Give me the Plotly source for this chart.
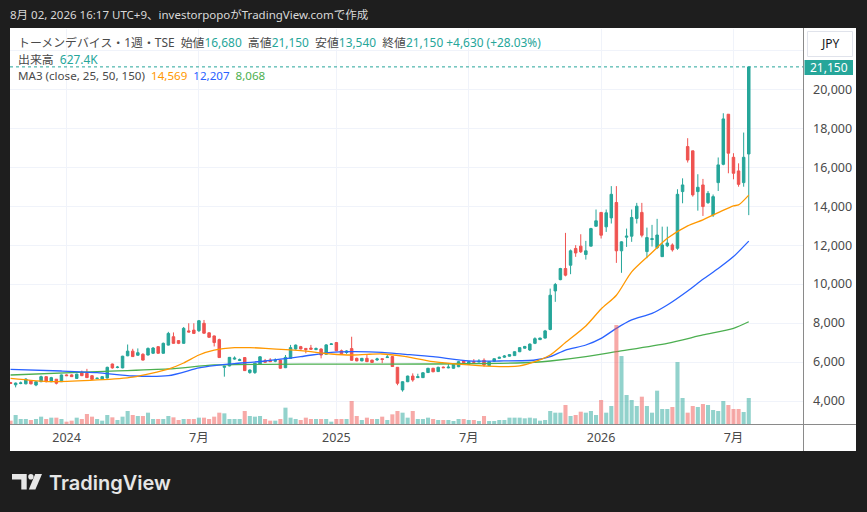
import pandas as pd
import plotly.graph_objects as go

# ---------------- data (weekly bars, Mondays) ----------------
first_week = "2023-10-16"
n_weeks = 146
dates = pd.date_range(first_week, periods=n_weeks, freq="7D")

opens = [4950, 4830, 4900, 4880, 5050, 4820, 4990, 5250, 4990, 5120,
         4990, 5340, 5340, 5160, 5470, 5420, 5300, 5150, 5120, 5180,
         5900, 5720, 5700, 6320, 6560, 6350, 6400, 6360, 6450, 6790,
         6450, 6870, 7300, 7100, 6960, 7600, 7640, 7610, 7990, 7500,
         7340, 7150, 5730, 5800, 6150, 6080, 6230, 5460, 5460, 5900,
         6070, 6100, 6040, 6100, 5710, 6190, 6670, 6790, 6700, 6720,
         6640, 6670, 6400, 6900, 7000, 6580, 6490, 6690, 6190, 6060,
         6190, 6100, 6110, 6170, 6230, 6280, 5730, 4570, 4990, 5280,
         5200, 5200, 5460, 5680, 5510, 5740, 5700, 5680, 5760, 6060,
         5880, 6020, 6000, 6090, 5820, 6040, 6190, 6250, 6300, 6330,
         6530, 6710, 6620, 6960, 7150, 7230, 7670, 9650, 10230, 10800,
         10970, 11830, 11950, 11520, 11950, 12970, 13680, 12940, 13400, 14190,
         11710, 12410, 12460, 13370, 13680, 11670, 12290, 11870, 11410, 11970,
         12010, 11840, 14750, 17060, 16840, 14750, 15090, 14180, 13550, 15210,
         16150, 18720, 16510, 15810, 15210, 16680]
highs = [4980, 4950, 5000, 5160, 5080, 5010, 5300, 5260, 5240, 5130,
         5360, 5370, 5370, 5400, 5560, 5650, 5320, 5200, 5270, 5760,
         5920, 5800, 6320, 6900, 6680, 6700, 6450, 6750, 6770, 6820,
         7000, 7550, 7520, 7120, 7800, 7990, 7990, 8160, 8160, 7520,
         7360, 7200, 5800, 6260, 6290, 6180, 6250, 5620, 5960, 6300,
         6160, 6200, 6190, 6110, 6360, 6880, 6900, 6830, 6720, 6880,
         6750, 6700, 6920, 6970, 7030, 6640, 6610, 7300, 6230, 6210,
         6360, 6120, 6220, 6180, 6360, 6300, 5740, 5010, 5300, 5420,
         5400, 5480, 5700, 5700, 5760, 5770, 5890, 5900, 6060, 6100,
         6050, 6150, 6150, 6190, 6040, 6190, 6280, 6360, 6400, 6550,
         6760, 6830, 6960, 7270, 7250, 7650, 9770, 10060, 10835, 12630,
         11776, 12000, 12560, 12220, 12890, 13830, 13700, 13830, 15030, 15030,
         12200, 12850, 13830, 14170, 14170, 12900, 13040, 13350, 12950, 12950,
         12090, 14870, 15430, 17490, 16850, 15640, 15400, 14780, 14600, 16500,
         18770, 18730, 16720, 16200, 17780, 21150]
lows = [4870, 4700, 4860, 4860, 4860, 4760, 4970, 4960, 4970, 4850,
        4980, 5290, 5240, 5140, 5280, 5180, 5100, 5140, 5110, 5160,
        5660, 5680, 5680, 6300, 6260, 6330, 6080, 6340, 6420, 6430,
        6430, 6850, 6940, 6920, 6940, 7530, 7450, 7540, 7460, 7250,
        6800, 6220, 5250, 5780, 6120, 6050, 5540, 5400, 5390, 5880,
        5970, 6000, 5990, 5660, 5690, 6170, 6640, 6650, 6450, 6640,
        6610, 6190, 6380, 6890, 6560, 6380, 6420, 6070, 6040, 6040,
        6000, 5960, 6050, 5940, 6220, 5750, 4810, 4480, 4970, 4990,
        5180, 5180, 5440, 5480, 5490, 5690, 5680, 5660, 5740, 5860,
        5860, 5970, 5990, 5760, 5800, 6020, 6170, 6210, 6280, 6310,
        6510, 6690, 6570, 6920, 7130, 7210, 7630, 9090, 10200, 10400,
        10510, 11400, 11600, 11260, 11940, 12960, 12340, 12680, 13110, 11090,
        10580, 11910, 12170, 13110, 12400, 11330, 11930, 11800, 11400, 11900,
        11670, 11760, 14150, 16240, 14490, 13770, 13500, 14120, 13450, 14780,
        16100, 15690, 15380, 15000, 15000, 13540]
closes = [4900, 4920, 4930, 5130, 4880, 4990, 5250, 4990, 5200, 4910,
          5340, 5300, 5250, 5380, 5300, 5200, 5110, 5170, 5250, 5730,
          5700, 5740, 6300, 6560, 6280, 6480, 6100, 6700, 6720, 6450,
          6960, 7470, 6960, 6960, 7730, 7540, 7470, 8120, 7480, 7270,
          7000, 6230, 5790, 6240, 6200, 6120, 5560, 5590, 5940, 6270,
          5990, 6020, 6090, 5680, 6240, 6740, 6870, 6670, 6640, 6660,
          6690, 6360, 6880, 6930, 6580, 6420, 6570, 6090, 6060, 6190,
          6020, 5980, 6160, 6130, 6260, 5770, 4910, 4990, 5280, 5080,
          5250, 5450, 5680, 5500, 5730, 5710, 5740, 5880, 6020, 5880,
          6010, 5990, 6040, 5850, 6020, 6170, 6240, 6310, 6380, 6530,
          6740, 6800, 6920, 7200, 7230, 7600, 9430, 9980, 10800, 10460,
          11710, 11600, 11660, 11710, 12850, 13250, 12510, 13660, 14610, 11710,
          12170, 12460, 13420, 14000, 12510, 12390, 12330, 12520, 12010, 12110,
          11760, 14610, 15090, 16370, 14580, 14970, 13980, 14660, 14490, 16120,
          18480, 16720, 15690, 15120, 16510, 21150]
volumes_k = [80, 217, 121, 121, 96, 121, 177, 121, 153, 153,
             121, 56, 80, 153, 121, 241, 177, 121, 80, 217,
             161, 96, 177, 314, 217, 193, 193, 273, 121, 121,
             121, 193, 161, 96, 121, 121, 121, 153, 153, 121,
             177, 273, 257, 121, 121, 121, 314, 193, 177, 193,
             121, 80, 80, 121, 394, 153, 121, 96, 153, 121,
             121, 121, 121, 56, 121, 121, 121, 555, 193, 96,
             153, 121, 121, 177, 96, 233, 314, 273, 153, 314,
             121, 121, 153, 121, 96, 96, 96, 72, 121, 121,
             96, 96, 72, 193, 72, 72, 96, 96, 153, 153,
             153, 137, 153, 137, 80, 96, 314, 273, 273, 458,
             193, 217, 297, 273, 314, 217, 579, 273, 434, 2388,
             1640, 700, 579, 434, 659, 434, 273, 804, 362, 362,
             410, 1495, 627, 273, 434, 410, 482, 458, 338, 314,
             555, 458, 362, 362, 289, 627.4]

ma25_idx = [0, 8, 17, 24, 31, 34, 37, 40, 44, 47, 50, 57, 63, 67, 70, 73, 77, 83,
            90, 96, 100, 103, 106, 109, 113, 116, 119, 122, 126, 129, 133, 136,
            139, 142, 143, 145]
ma25_val = [5165, 4995, 5080, 5230, 5640, 5950, 6362, 6610, 6737, 6740, 6705, 6585,
            6413, 6362, 6396, 6413, 6300, 6018, 5850, 5765, 5800, 6018, 6362, 7000,
            7850, 8720, 9430, 10630, 11620, 12350, 12990, 13300, 13670, 14020,
            14064, 14569]
ma50_idx = [0, 10, 17, 24, 31, 37, 40, 44, 50, 57, 63, 67, 73, 77, 83, 90, 96, 103,
            106, 109, 113, 116, 119, 122, 126, 129, 133, 136, 139, 142, 145]
ma50_val = [5627, 5540, 5453, 5284, 5300, 5700, 5820, 5920, 6055, 6277, 6500, 6534,
            6500, 6410, 6275, 6053, 6053, 6105, 6277, 6618, 6875, 7218, 7730, 8160,
            8500, 8930, 9650, 10250, 10800, 11412, 12207]
ma150_idx = [0, 17, 31, 40, 50, 63, 83, 96, 103, 106, 113, 119, 129, 136, 142, 145]
ma150_val = [5335, 5505, 5645, 5850, 5885, 5890, 5900, 5936, 5990, 6053, 6277, 6534,
             6962, 7390, 7732, 8068]

tick_dates = ["2024-01-01", "2024-07-01", "2025-01-06", "2025-07-07", "2026-01-05", "2026-07-06"]
tick_text = ["2024", "7月", "2025", "7月", "2026", "7月"]
price_ticks = [4000, 6000, 8000, 10000, 12000, 14000, 16000, 18000, 20000, 22000]

last_close = closes[-1]

# ---------------- styling ----------------
UP = "#26a69a"
DOWN = "#ef5350"
FRAME = "#1e1e1e"
TXT = "#4a4a4a"
GRID = "#f0f3fa"
FONT = "Noto Sans, Noto Sans CJK JP, sans-serif"

W, H = 867, 512
L, R, T, B = 10, 803, 29, 424  # plot area in pixels


def px(x):
    return (x - L) / (R - L)


def py(y):
    return (B - y) / (B - T)


fig = go.Figure()

vol_colors = ["rgba(38,166,154,0.5)" if c >= o else "rgba(239,83,80,0.5)"
              for o, c in zip(opens, closes)]
fig.add_trace(go.Bar(x=dates, y=[v * 1000 for v in volumes_k], marker_color=vol_colors,
                     marker_line_width=0, yaxis="y2", hoverinfo="skip"))

fig.add_trace(go.Candlestick(
    x=dates, open=opens, high=highs, low=lows, close=closes,
    increasing=dict(line=dict(color=UP, width=1), fillcolor=UP),
    decreasing=dict(line=dict(color=DOWN, width=1), fillcolor=DOWN),
    whiskerwidth=0))

for idx, val, col in [(ma150_idx, ma150_val, "#4caf50"),
                      (ma50_idx, ma50_val, "#2962ff"),
                      (ma25_idx, ma25_val, "#ff9800")]:
    fig.add_trace(go.Scatter(x=[dates[i] for i in idx], y=val, mode="lines",
                             line=dict(color=col, width=1.3, shape="spline", smoothing=0.7),
                             hoverinfo="skip"))

shapes = [
    # white panel
    dict(type="rect", xref="paper", yref="paper", x0=px(10), x1=px(856), y0=py(451), y1=py(28),
         fillcolor="white", line_width=0, layer="below"),
    # last price dotted line
    dict(type="line", xref="paper", yref="y", x0=0, x1=1, y0=last_close, y1=last_close,
         line=dict(color=UP, width=1, dash="dot")),
    # separators
    dict(type="line", xref="paper", yref="paper", x0=px(803.5), x1=px(803.5), y0=py(451), y1=py(28),
         line=dict(color="#8a8a8a", width=1)),
    dict(type="line", xref="paper", yref="paper", x0=px(10), x1=px(856), y0=py(424.5), y1=py(424.5),
         line=dict(color="#8a8a8a", width=1)),
    # JPY button
    dict(type="rect", xref="paper", yref="paper", x0=px(807.5), x1=px(852.5), y0=py(56.5), y1=py(31.5),
         fillcolor="white", line=dict(color="#e0e3eb", width=1)),
    # last price label
    dict(type="rect", xref="paper", yref="paper", x0=px(804.5), x1=px(853), y0=py(75), y1=py(60),
         fillcolor=UP, line_width=0),
    # TradingView logo
    dict(type="path", xref="paper", yref="paper", fillcolor="#e6e6e6", line_width=0,
         path="M {} {} L {} {} L {} {} L {} {} L {} {} L {} {} Z".format(
             px(12), py(474), px(26.7), py(474), px(26.7), py(489.5), px(21.3), py(489.5),
             px(21.3), py(479.6), px(12), py(479.6))),
    dict(type="circle", xref="paper", yref="paper", fillcolor="#e6e6e6", line_width=0,
         x0=px(28.2), x1=px(33.6), y0=py(479.6), y1=py(474)),
    dict(type="path", xref="paper", yref="paper", fillcolor="#e6e6e6", line_width=0,
         path="M {} {} L {} {} L {} {} L {} {} Z".format(
             px(35.2), py(474), px(42), py(474), px(35.4), py(489.5), px(28.8), py(489.5))),
]


def ann(x, y, text, size=12, color=TXT, xanchor="left", family=FONT, weight=None):
    f = dict(size=size, color=color, family=family)
    if weight:
        f["weight"] = weight
    return dict(xref="paper", yref="paper", x=px(x), y=py(y), text=text, showarrow=False,
                xanchor=xanchor, yanchor="middle", font=f)


def c(t, col):
    return f"<span style='color:{col}'>{t}</span>"


legend1 = ("トーメンデバイス・1週・TSE  始値" + c("16,680", UP) + "  高値" + c("21,150", UP)
           + "  安値" + c("13,540", UP) + "  終値" + c("21,150", UP) + " " + c("+4,630 (+28.03%)", UP))
legend2 = "出来高  " + c("627.4K", UP)
legend3 = ("MA3 (close, 25, 50, 150)  " + c("14,569", "#ff9800") + "  " + c("12,207", "#2962ff")
           + "  " + c("8,068", "#4caf50"))

annotations = [
    ann(8, 14.5, "8月 02, 2026 16:17 UTC+9、investorpopoがTradingView.comで作成", size=11.5, color="#d9d9d9"),
    ann(16, 42.5, legend1, size=11.9),
    ann(16, 59, legend2, size=11.9),
    ann(16, 75.5, legend3, size=11.6),
    ann(830, 44, "JPY", size=12, color="#131722", xanchor="center"),
    ann(829, 67.5, f"{last_close:,}", size=12, color="white", xanchor="center"),
    ann(47, 483, "TradingView", size=20, color="#e6e6e6", family="Inter, Roboto, sans-serif", weight=600),
]

fig.update_layout(
    width=W, height=H,
    margin=dict(l=L, r=W - R, t=T, b=H - B, pad=0),
    paper_bgcolor=FRAME, plot_bgcolor="white",
    showlegend=False,
    bargap=0.2,
    xaxis=dict(type="date", range=["2023-10-15 06:00", "2026-10-09 14:00"],
               rangeslider=dict(visible=False), tickvals=tick_dates, ticktext=tick_text,
               showgrid=True, gridcolor=GRID, gridwidth=1, showline=False, zeroline=False,
               ticks="", tickfont=dict(size=12.5, color=TXT, family=FONT), ticklabelstandoff=4),
    yaxis=dict(side="right", range=[2820, 23095], tickvals=price_ticks,
               ticktext=[f"{v:,}" if v < 21000 else "" for v in price_ticks],
               showgrid=True, gridcolor=GRID, gridwidth=1, showline=False, zeroline=False,
               ticks="", tickfont=dict(size=12.5, color=TXT, family=FONT), ticklabelstandoff=9),
    yaxis2=dict(overlaying="y", range=[0, 9.53e6], visible=False),
    shapes=shapes,
    annotations=annotations,
)

fig.write_html("out.html",
               config={"displayModeBar": False},
               post_script="document.body.style.margin='0';document.body.style.background='#1e1e1e';")
